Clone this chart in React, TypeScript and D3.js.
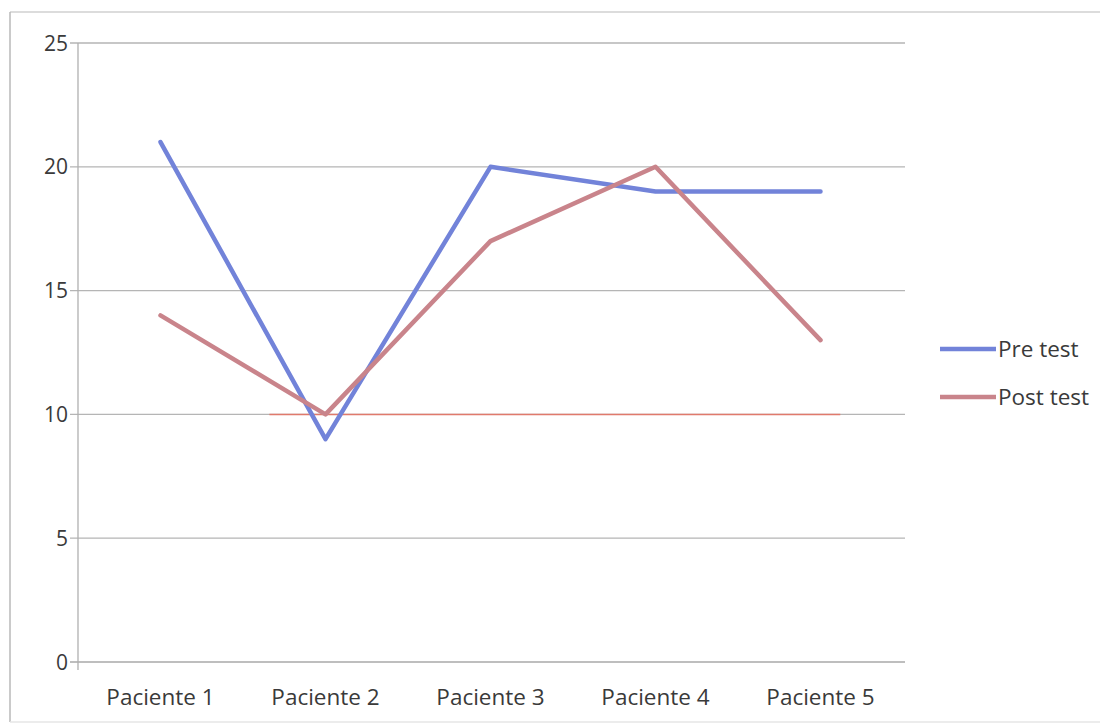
import React from "react";
import * as d3 from "d3";

const categories = ["Paciente 1", "Paciente 2", "Paciente 3", "Paciente 4", "Paciente 5"];
const preTest = [21, 9, 20, 19, 19];
const postTest = [14, 10, 17, 20, 13];
const yTicks = [0, 5, 10, 15, 20, 25];
const referenceValue = 10;
const seriesNames = ["Pre test", "Post test"];

const W = 1107;
const H = 726;
const margin = { left: 78, right: 204, top: 43, bottom: 64 };

export default function App() {
  const x = d3
    .scaleBand<string>()
    .domain(categories)
    .range([margin.left, W - margin.right])
    .paddingInner(0)
    .paddingOuter(0);
  const y = d3.scaleLinear().domain([0, 25]).range([H - margin.bottom, margin.top]);
  const cx = (c: string) => (x(c) as number) + x.bandwidth() / 2;
  const line = d3
    .line<number>()
    .x((_, i) => cx(categories[i]))
    .y((d) => y(d));

  const colors = ["#7283d9", "#c9848b"];
  const series = [preTest, postTest];
  const font = "'Open Sans', 'Noto Sans', sans-serif";
  const step = x.step();
  const refX1 = cx(categories[1]) - 0.34 * step;
  const refX2 = cx(categories[4]) + 0.12 * step;

  return (
    <svg
      width={W}
      height={H}
      style={{ position: "absolute", left: 0, top: 0, background: "#fff" }}
      fontFamily={font}
    >
      <rect x={0} y={0} width={W} height={H} fill="#fff" />
      {/* outer frame */}
      <line x1={10} x2={1100} y1={12} y2={12} stroke="#dcdcdc" strokeWidth={2} />
      <line x1={10} x2={10} y1={12} y2={722} stroke="#b8b8b8" strokeWidth={1.5} />
      <line x1={10} x2={1100} y1={722} y2={722} stroke="#e6e6e6" strokeWidth={1.5} />
      {/* gridlines */}
      {yTicks.map((t) => (
        <g key={t}>
          <line
            x1={margin.left - 8}
            x2={W - margin.right + 2}
            y1={y(t)}
            y2={y(t)}
            stroke={t === 0 ? "#a8a8a8" : "#b5b5b5"}
            strokeWidth={1.3}
          />
          <text
            x={margin.left - 10}
            y={y(t)}
            dy="0.36em"
            textAnchor="end"
            fontSize={21}
            fill="#3a3a3a"
          >
            {t}
          </text>
        </g>
      ))}
      {/* y axis line */}
      <line
        x1={margin.left}
        x2={margin.left}
        y1={y(25)}
        y2={y(0) + 8}
        stroke="#b0b0b0"
        strokeWidth={1.3}
      />
      {/* reference line */}
      <line
        x1={refX1}
        x2={refX2}
        y1={y(referenceValue)}
        y2={y(referenceValue)}
        stroke="#e07a6c"
        strokeWidth={1.5}
      />
      {/* x labels */}
      {categories.map((c) => (
        <text
          key={c}
          x={cx(c)}
          y={y(0) + 43}
          textAnchor="middle"
          fontSize={22.5}
          fill="#3a3a3a"
        >
          {c}
        </text>
      ))}
      {/* series */}
      {series.map((s, i) => (
        <path
          key={i}
          d={line(s) || ""}
          fill="none"
          stroke={colors[i]}
          strokeWidth={4.5}
          strokeLinejoin="round"
          strokeLinecap="round"
        />
      ))}
      {/* legend */}
      {seriesNames.map((n, i) => (
        <g key={n} transform={`translate(940, ${349 + i * 48})`}>
          <line x1={0} x2={56} y1={0} y2={0} stroke={colors[i]} strokeWidth={4.5} />
          <text x={58} y={0} dy="0.36em" fontSize={22.5} fill="#3a3a3a">
            {n}
          </text>
        </g>
      ))}
    </svg>
  );
}
